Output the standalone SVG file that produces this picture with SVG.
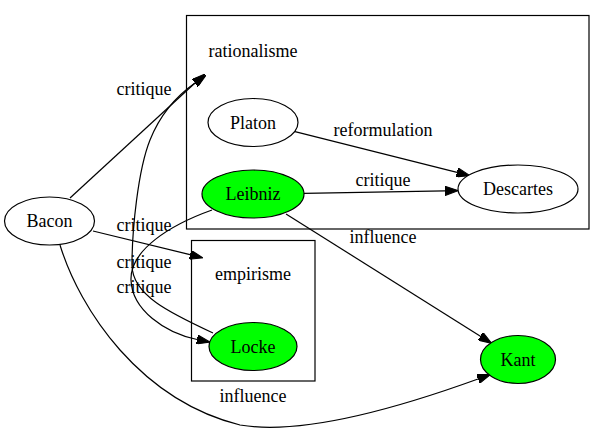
<svg xmlns="http://www.w3.org/2000/svg" width="605" height="433" viewBox="0 0 605 433">
<defs>
<style>
text{font-family:"Liberation Serif","Times New Roman",serif;font-size:18px;fill:#000;text-anchor:middle}
.cl{fill:none;stroke:#000;stroke-width:1.2}
.n{fill:#fff;stroke:#000;stroke-width:1.2}
.g{fill:#00ff00;stroke:#000;stroke-width:1.2}
.e{fill:none;stroke:#000;stroke-width:1.2;marker-end:url(#ah)}
</style>
<marker id="ah" viewBox="0 0 10 7" refX="0" refY="3.5" markerWidth="13.3" markerHeight="9.3" markerUnits="userSpaceOnUse" orient="auto">
<path d="M0,0 L10,3.5 L0,7 z" fill="#000" stroke="#000" stroke-width="0.8"/>
</marker>
</defs>
<g id="cluster_rationalisme">
<rect class="cl" x="186.5" y="15.5" width="402.5" height="213.5"/>
<text x="253" y="57">rationalisme</text>
</g>
<g id="cluster_empirisme">
<rect class="cl" x="191.5" y="240.5" width="123.5" height="140.5"/>
<text x="253" y="280">empirisme</text>
</g>
<g id="edges">
<path class="e" d="M70,198 L195,83"/>
<text x="144" y="95">critique</text>
<path class="e" d="M93,231 L190,254.7"/>
<text x="144" y="231">critique</text>
<path class="e" d="M295,131.7 L457,172.4"/>
<text x="383" y="136">reformulation</text>
<path class="e" d="M304,193.3 L445,190.9"/>
<text x="383" y="186">critique</text>
<path class="e" d="M286,214 L480.4,336.2"/>
<text x="383" y="243">influence</text>
<path class="e" d="M60,245 C80,310 140,400 240,425 C310,437 420,400 478,379"/>
<text x="253" y="402">influence</text>
<path class="e" d="M212,210 C170,225 130,250 131,280 C132,310 165,333 197,339.5"/>
<text x="144" y="268">critique</text>
<path class="e" d="M213,333 C170,313 132,295 132,265 C132,230 138,170 150,140 C160,115 175,97 195,83"/>
<text x="144" y="293">critique</text>
</g>
<g id="Bacon">
<ellipse class="n" cx="49.5" cy="221" rx="45" ry="24"/>
<text x="49.5" y="227">Bacon</text>
</g>
<g id="Platon">
<ellipse class="n" cx="253" cy="122.5" rx="45" ry="24"/>
<text x="253" y="128.5">Platon</text>
</g>
<g id="Leibniz">
<ellipse class="g" cx="253" cy="194" rx="51" ry="24"/>
<text x="253" y="200">Leibniz</text>
</g>
<g id="Descartes">
<ellipse class="n" cx="518" cy="189" rx="60" ry="24"/>
<text x="518" y="195">Descartes</text>
</g>
<g id="Locke">
<ellipse class="g" cx="253" cy="346.5" rx="44" ry="24"/>
<text x="253" y="352.5">Locke</text>
</g>
<g id="Kant">
<ellipse class="g" cx="518" cy="359.5" rx="37.5" ry="24"/>
<text x="518" y="365.5">Kant</text>
</g>
</svg>
